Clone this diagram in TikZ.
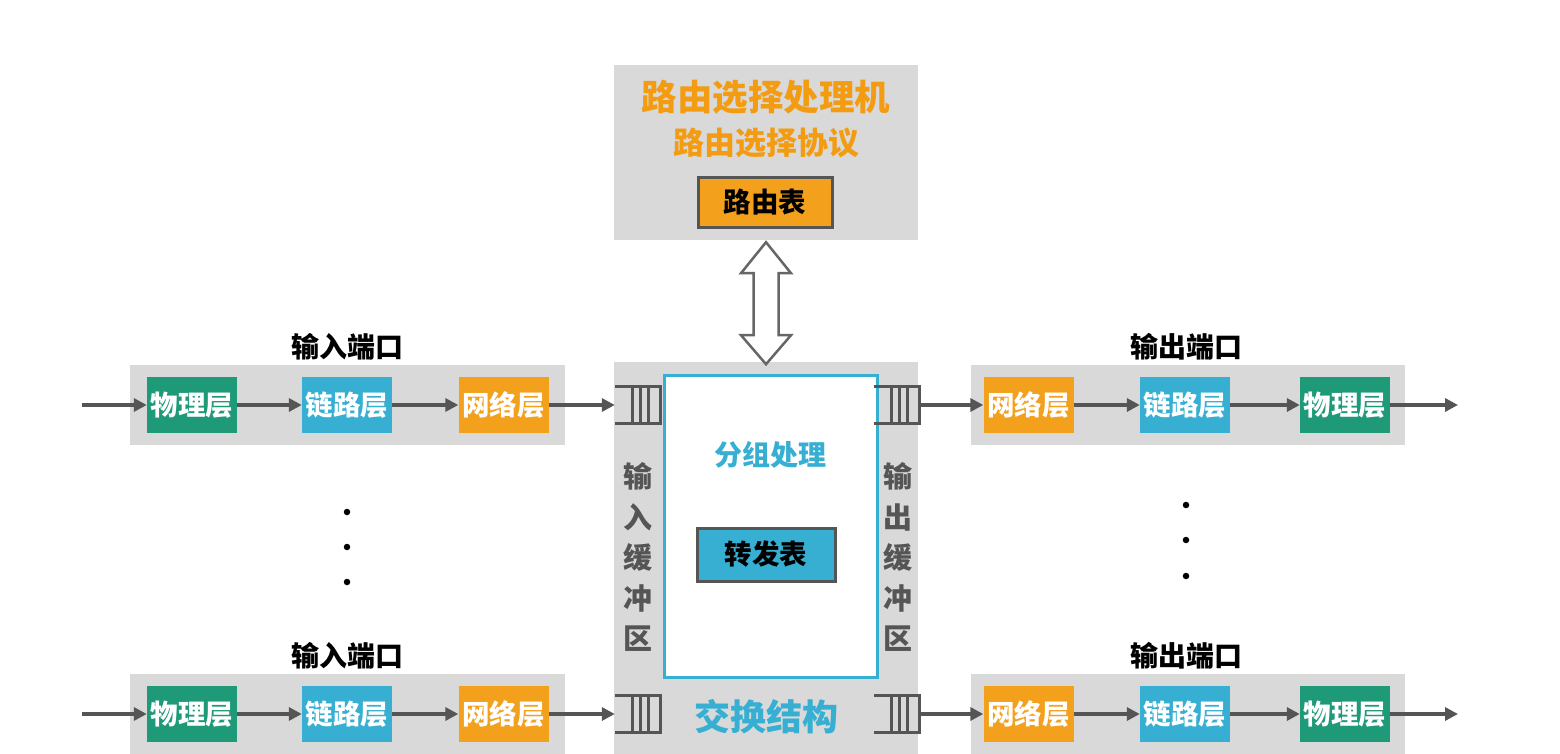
\documentclass[tikz,border=0pt]{standalone}
\usepackage{fontspec}
\setmainfont{Noto Sans CJK SC}
\usetikzlibrary{arrows.meta,calc}
\definecolor{bg}{HTML}{D9D9D9}
\definecolor{grn}{HTML}{1E9A78}
\definecolor{cyn}{HTML}{36AFD3}
\definecolor{org}{HTML}{F3A01C}
\definecolor{ttl}{HTML}{F39C12}
\definecolor{dk}{HTML}{555555}
\newcommand{\drawqueue}[1]{%
  \draw[qline] (#1.north west) -- (#1.north east) -- (#1.south east) -- (#1.south west);
  \foreach \o in {18,26,34} \draw[qline] ($(#1.north west)+(\o,0)$) -- ($(#1.south west)+(\o,0)$);
}
\begin{document}
\begin{tikzpicture}[x=1pt,y=-1pt,
  panel/.style={fill=bg, draw=none, inner sep=0pt},
  layer/.style={minimum width=90pt, minimum height=56pt, inner sep=0pt, text=white, font=\bfseries\fontsize{27.5}{27.5}\selectfont},
  phy/.style={layer, fill=grn}, lnk/.style={layer, fill=cyn}, net/.style={layer, fill=org},
  flow/.style={draw=dk, line width=3.5pt, -{Triangle[length=13pt,width=13pt]}},
  portlabel/.style={font=\bfseries\fontsize{28}{28}\selectfont, text=black},
  qline/.style={draw=dk, line width=3pt},
  queue/.style={minimum width=45pt, minimum height=36pt, inner sep=0pt},
  table/.style={draw=dk, line width=3pt, inner sep=0pt, text=black, font=\bfseries\fontsize{27.5}{27.5}\selectfont},
  dot/.style={circle, fill=black, inner sep=0pt, minimum size=6.5pt}
]
\useasboundingbox (0,0) rectangle (1560,754);

% routing processor
\node[panel, minimum width=304pt, minimum height=175pt] (rp) at (766,152.5) {};
\node[font=\bfseries\fontsize{35.5}{35.5}\selectfont, text=ttl] (rpt) at (766,97) {路由选择处理机};
\node[font=\bfseries\fontsize{31}{31}\selectfont, text=ttl] (rpp) at (766,143) {路由选择协议};
\node[table, fill=org, minimum width=134pt, minimum height=49pt] (rt) at (765,202.5) {路由表};

% switch fabric
\node[panel, minimum width=304pt, minimum height=392pt] (sw) at (766,558) {};
\node[draw=cyn, line width=3pt, fill=white, minimum width=213pt, minimum height=302pt, inner sep=0pt] (pp) at (770.5,526) {};
\node[font=\bfseries\fontsize{28}{28}\selectfont, text=cyn] (ppt) at (770,455) {分组处理};
\node[table, fill=cyn, minimum width=138pt, minimum height=53pt] (ft) at (766,554.5) {转发表};
\node[font=\bfseries\fontsize{36}{36}\selectfont, text=cyn] (swt) at (766,717) {交换结构};
\node[align=center, font=\bfseries\fontsize{29}{40.5}\selectfont, text=dk] (ib) at (638,557) {输\\入\\缓\\冲\\区};
\node[align=center, font=\bfseries\fontsize{29}{40.5}\selectfont, text=dk] (ob) at (898,557) {输\\出\\缓\\冲\\区};

% double arrow
\draw[draw=dk!90, line width=2.5pt, fill=white, line join=miter]
  ($(rp.south)+(0,2)$) -- ++(25,31) -- ++(-12.5,0) -- ++(0,62) -- ++(12.5,0)
  -- ++(-25,29) -- ++(-25,-29) -- ++(12.5,0) -- ++(0,-62) -- ++(-12.5,0) -- cycle;

% queues
\node[queue] (qi1) at (637.5,405) {};
\node[queue] (qi2) at (637.5,714) {};
\node[queue] (qo1) at (896.5,405) {};
\node[queue] (qo2) at (896.5,714) {};
\drawqueue{qi1}
\drawqueue{qi2}
\drawqueue{qo1}
\drawqueue{qo2}

% input ports
\foreach \r/\yy in {1/405, 2/714} {
  \node[panel, minimum width=435pt, minimum height=80pt] (ip\r) at (347.5,\yy) {};
  \node[portlabel] (ipl\r) at (347,\yy-58) {输入端口};
  \node[phy] (iph\r) at (192,\yy) {物理层};
  \node[lnk] (ilk\r) at (347,\yy) {链路层};
  \node[net] (inw\r) at (503.5,\yy) {网络层};
  \coordinate (in\r) at (82,\yy);
  \draw[flow] (in\r) -- (iph\r.west);
  \draw[flow] (iph\r) -- (ilk\r);
  \draw[flow] (ilk\r) -- (inw\r);
  \draw[flow] (inw\r) -- (qi\r.west);
}
% output ports
\foreach \r/\yy in {1/405, 2/714} {
  \node[panel, minimum width=434pt, minimum height=80pt] (op\r) at (1188,\yy) {};
  \node[portlabel] (opl\r) at (1186,\yy-58) {输出端口};
  \node[net] (onw\r) at (1028.5,\yy) {网络层};
  \node[lnk] (olk\r) at (1185,\yy) {链路层};
  \node[phy] (oph\r) at (1345,\yy) {物理层};
  \coordinate (out\r) at (1458,\yy);
  \draw[flow] (qo\r.east) -- (onw\r);
  \draw[flow] (onw\r) -- (olk\r);
  \draw[flow] (olk\r) -- (oph\r);
  \draw[flow] (oph\r) -- (out\r);
}
% dots
\node[dot] (dl1) at (347,512) {};
\node[dot] (dl2) at (347,547) {};
\node[dot] (dl3) at (347,582) {};
\node[dot] (dr1) at (1186,505) {};
\node[dot] (dr2) at (1186,540) {};
\node[dot] (dr3) at (1186,576) {};
\end{tikzpicture}
\end{document}
